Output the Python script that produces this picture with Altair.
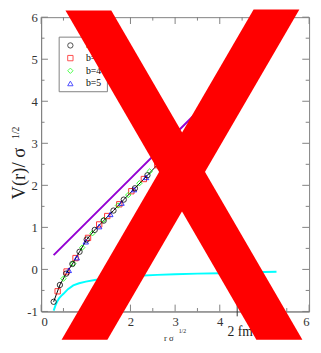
import altair as alt
import pandas as pd

# ---------------- data ----------------
black_r = [0.28, 0.42, 0.56, 0.70, 0.86, 1.02, 1.20, 1.40, 1.62, 1.85, 2.10, 2.38, 2.66, 2.95, 3.25]
black_v = [-0.77, -0.37, -0.10, 0.13, 0.42, 0.71, 0.94, 1.16, 1.40, 1.66, 1.93, 2.24, 2.55, 2.87, 3.20]
red_r = [0.37, 0.57, 0.77, 1.05, 1.30, 1.48, 1.75, 2.02, 2.30, 2.60, 2.90, 3.19]
red_v = [-0.52, -0.05, 0.27, 0.75, 1.07, 1.27, 1.55, 1.86, 2.15, 2.48, 2.81, 3.13]
green_r = [0.50, 0.72, 0.92, 1.15, 1.40, 1.72, 1.95, 2.20, 2.43, 2.75, 3.05]
green_v = [-0.22, 0.14, 0.52, 0.86, 1.18, 1.52, 1.77, 2.05, 2.33, 2.65, 2.98]
blue_r = [0.62, 0.80, 1.00, 1.30, 1.55, 1.80, 2.08, 2.35, 2.65, 3.00]
blue_v = [-0.02, 0.28, 0.66, 1.02, 1.31, 1.58, 1.90, 2.19, 2.52, 2.90]

purple_r = [0.28, 1.0, 2.0, 3.0, 4.0]
purple_v = [0.34, 1.10, 2.16, 3.22, 4.28]

cyan_r = [0.28, 0.32, 0.36, 0.40, 0.45, 0.50, 0.60, 0.72, 0.85, 1.00, 1.20, 1.50, 1.80,
          2.20, 2.60, 3.00, 3.50, 4.00, 4.50, 5.00, 5.27]
cyan_v = [-0.98, -0.86, -0.76, -0.69, -0.63, -0.58, -0.47, -0.38, -0.33, -0.29, -0.25, -0.21,
          -0.18, -0.15, -0.13, -0.115, -0.10, -0.09, -0.075, -0.062, -0.056]

legend_labels = ["b=2", "b=3", "b=4", "b=5"]
legend_colors = ["#000000", "#ff0000", "#00ff00", "#0000ff"]
legend_shapes = ["circle", "square", "diamond", "triangle-up"]

x_major = [0, 1, 2, 3, 4, 5, 6]
x_minor = [0.5, 1.5, 2.5, 3.5, 4.5, 5.5]
y_major = [-1, 0, 1, 2, 3, 4, 5, 6]
y_minor = [-0.5, 0.5, 1.5, 2.5, 3.5, 4.5, 5.5]

fm_r = [4.39]  # 2 fm marker

# big red cross drawn over the figure (two bands)
cross_a_v = [6.16, -1.67]
cross_a_left = [0.545, 4.82]
cross_a_right = [1.571, 5.85]
cross_b_v = [6.185, -1.67]
cross_b_left = [4.757, 0.458]
cross_b_right = [5.782, 1.484]

# ---------------- chart ----------------
W, H = 275, 302
SERIF = "Times New Roman, Liberation Serif, serif"
GRAY = "#808080"

xs = alt.Scale(domain=[0, 6], nice=False, zero=False)
ys = alt.Scale(domain=[-1, 6], nice=False, zero=False)
xaxis = alt.Axis(values=x_major, title=None, ticks=False, grid=False, labelPadding=4,
                 labelExpr="'' + datum.value", labelFont=SERIF, labelFontSize=13,
                 labelColor="#333333", domainColor=GRAY)
yaxis = alt.Axis(values=y_major, title=None, ticks=False, grid=False, labelPadding=4,
                 labelExpr="'' + datum.value", labelFont=SERIF, labelFontSize=13,
                 labelColor="#333333", domainColor=GRAY)


def X(f):
    return alt.X(f, type="quantitative", scale=xs, axis=xaxis)


def Y(f):
    return alt.Y(f, type="quantitative", scale=ys, axis=yaxis)


one = pd.DataFrame({"a": [0]})
layers = []

# purple and cyan curves
layers.append(alt.Chart(pd.DataFrame({"r": purple_r, "v": purple_v}))
              .mark_line(color="#9400d3", strokeWidth=2).encode(x=X("r"), y=Y("v")))
layers.append(alt.Chart(pd.DataFrame({"r": cyan_r, "v": cyan_v}))
              .mark_line(color="#00ffff", strokeWidth=2).encode(x=X("r"), y=Y("v")))

# black connecting line
layers.append(alt.Chart(pd.DataFrame({"r": black_r, "v": black_v}))
              .mark_line(color="#000000", strokeWidth=1).encode(x=X("r"), y=Y("v")))

series = [(red_r, red_v, 1), (green_r, green_v, 2), (blue_r, blue_v, 3), (black_r, black_v, 0)]
for rr, vv, k in series:
    layers.append(alt.Chart(pd.DataFrame({"r": rr, "v": vv}))
                  .mark_point(shape=legend_shapes[k], color=legend_colors[k], filled=False,
                              size=30, strokeWidth=1, opacity=0.8)
                  .encode(x=X("r"), y=Y("v")))

# inward ticks
for vals, ln in [(x_major, 7), (x_minor, 3.5)]:
    df = pd.DataFrame({"t": vals})
    layers.append(alt.Chart(df).mark_rule(color=GRAY).encode(
        x=X("t"), y=alt.value(H), y2=alt.value(H - ln)))
    layers.append(alt.Chart(df).mark_rule(color=GRAY).encode(
        x=X("t"), y=alt.value(0), y2=alt.value(ln)))
for vals, ln in [(y_major, 7), (y_minor, 3.5)]:
    df = pd.DataFrame({"t": vals})
    layers.append(alt.Chart(df).mark_rule(color=GRAY).encode(
        y=Y("t"), x=alt.value(0), x2=alt.value(ln)))
    layers.append(alt.Chart(df).mark_rule(color=GRAY).encode(
        y=Y("t"), x=alt.value(W), x2=alt.value(W - ln)))

# 2 fm marker
fm = pd.DataFrame({"r": fm_r, "lab": ["2 fm"]})
layers.append(alt.Chart(fm).mark_rule(color="#333333", strokeWidth=1).encode(
    x=X("r"), y=alt.value(290), y2=alt.value(307)))
layers.append(alt.Chart(fm).mark_text(font=SERIF, fontSize=14, color="#222222",
                                      align="center", baseline="alphabetic", dx=3)
              .encode(x=X("r"), y=alt.value(327), text="lab:N"))

# axis titles
layers.append(alt.Chart(one).mark_text(font=SERIF, fontSize=9, color="#222222",
                                       align="center", baseline="alphabetic")
              .encode(x=alt.value(131), y=alt.value(332), text=alt.value("r σ")))
layers.append(alt.Chart(one).mark_text(font=SERIF, fontSize=6, color="#222222",
                                       align="center", baseline="alphabetic")
              .encode(x=alt.value(145), y=alt.value(324), text=alt.value("1/2")))
layers.append(alt.Chart(one).mark_text(font=SERIF, fontSize=19, color="#222222", angle=270,
                                       align="left", baseline="alphabetic")
              .encode(x=alt.value(-17), y=alt.value(187), text=alt.value("V(r)/ σ")))
# superscript: same anchor, shifted along the rotated text frame
layers.append(alt.Chart(one).mark_text(font=SERIF, fontSize=10, color="#222222", angle=270,
                                       align="left", baseline="alphabetic", dx=62, dy=-6)
              .encode(x=alt.value(-17), y=alt.value(187), text=alt.value("1/2")))

# legend box (drawn as marks so the cross covers it)
layers.append(alt.Chart(one).mark_rect(fill="white", stroke=GRAY, strokeWidth=1).encode(
    x=alt.value(18.5), x2=alt.value(68), y=alt.value(20.5), y2=alt.value(76.5)))
for i, lab in enumerate(legend_labels):
    yy = 29 + 13 * i
    layers.append(alt.Chart(one).mark_point(shape=legend_shapes[i], color=legend_colors[i],
                                            filled=False, size=30, strokeWidth=1)
                  .encode(x=alt.value(30), y=alt.value(yy)))
    layers.append(alt.Chart(one).mark_text(font=SERIF, fontSize=10, color="#000000",
                                           align="left", baseline="middle")
                  .encode(x=alt.value(46), y=alt.value(yy), text=alt.value(lab)))

# red cross on top
layers.append(alt.Chart(pd.DataFrame({"v": cross_a_v, "l": cross_a_left, "r": cross_a_right}))
              .mark_area(orient="horizontal", color="#ff0000", opacity=1, clip=False)
              .encode(y=Y("v"), x=X("l"), x2="r"))
layers.append(alt.Chart(pd.DataFrame({"v": cross_b_v, "l": cross_b_left, "r": cross_b_right}))
              .mark_area(orient="horizontal", color="#ff0000", opacity=1, clip=False)
              .encode(y=Y("v"), x=X("l"), x2="r"))

chart = alt.layer(*layers).properties(
    width=W, height=H,
    autosize=alt.AutoSizeParams(type="none"),
    padding={"left": 34, "top": 5, "right": 4, "bottom": 30},
).configure_view(stroke=GRAY, strokeWidth=1)

chart.save("out.html", embed_options={"renderer": "svg", "actions": False})
